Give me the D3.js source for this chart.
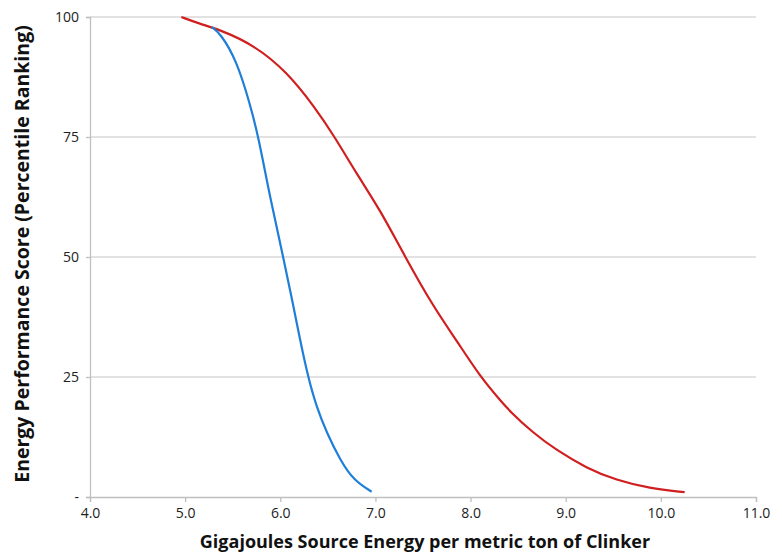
<!DOCTYPE html>
<meta charset="utf-8">
<script src="https://d3js.org/d3.v7.min.js"></script>
<style>
  body { margin: 0; background: #fff; }
  text { font-family: "Open Sans", "Noto Sans", sans-serif; }
</style>
<div id="chart"></div>
<script>

// values
var blueX = [5.28, 5.37, 5.54, 5.68, 5.77, 5.89, 6.03, 6.12, 6.20, 6.29, 6.38, 6.49, 6.63, 6.77, 6.96];
var blueY = [97.9, 96.6, 91.0, 82.0, 75.1, 62.6, 50.1, 41.5, 33.5, 25.1, 18.8, 13.3, 7.7, 3.5, 1.1];

var redX = [4.96, 5.15, 5.37, 5.72, 6.07, 6.37, 6.57, 6.80, 7.05, 7.31, 7.61, 7.85, 8.10, 8.31, 8.41, 8.66, 8.90, 9.22, 9.53, 9.88, 10.25];
var redY = [100, 98.6, 97.3, 94.2, 88.6, 81.0, 75.1, 67.4, 59.8, 50.1, 39.6, 32.7, 25.1, 20.2, 17.9, 13.3, 9.8, 6.0, 3.5, 1.8, 1.0];

var xTicks = [4, 5, 6, 7, 8, 9, 10, 11];
var yTicks = [0, 25, 50, 75, 100];

var width = 782, height = 556;
var margin = {left: 90, right: 26, top: 17, bottom: 59};

var svg = d3.select("#chart").append("svg").attr("width", width).attr("height", height);

var x = d3.scaleLinear().domain([4, 11]).range([margin.left, width - margin.right]);
var y = d3.scaleLinear().domain([0, 100]).range([height - margin.bottom, margin.top]);

// gridlines
svg.selectAll(".grid").data(yTicks.filter(function(d) { return d > 0; })).enter()
  .append("line")
  .attr("x1", x(4)).attr("x2", x(11))
  .attr("y1", function(d) { return y(d); }).attr("y2", function(d) { return y(d); })
  .style("stroke", "#d9d9d9").style("stroke-width", 1.3);

// x axis
var xAxis = svg.append("g")
  .attr("transform", "translate(0," + y(0) + ")")
  .call(d3.axisBottom(x).tickValues(xTicks).tickSize(5).tickPadding(6)
    .tickFormat(d3.format(".1f")));

// y axis
var yAxis = svg.append("g")
  .attr("transform", "translate(" + x(4) + ",0)")
  .call(d3.axisLeft(y).tickValues(yTicks).tickSize(4).tickPadding(7)
    .tickFormat(function(d) { return d === 0 ? "-" : d; }));

[xAxis, yAxis].forEach(function(g) {
  g.select(".domain").style("stroke", "#bfbfbf").style("stroke-width", 1.3);
  g.selectAll(".tick line").style("stroke", "#bfbfbf").style("stroke-width", 1.3);
  g.selectAll("text").style("font-size", "14px").style("fill", "#222")
    .style("font-family", "'Open Sans', sans-serif");
});

var line = d3.line()
  .x(function(d) { return x(d[0]); })
  .y(function(d) { return y(d[1]); })
  .curve(d3.curveBasis);

svg.append("path")
  .datum(d3.zip(redX, redY))
  .attr("d", line)
  .style("fill", "none").style("stroke", "#d01f1f").style("stroke-width", 2.2);

svg.append("path")
  .datum(d3.zip(blueX, blueY))
  .attr("d", line)
  .style("fill", "none").style("stroke", "#1f7fd8").style("stroke-width", 2.2);

// axis titles
svg.append("text")
  .attr("x", 425)
  .attr("y", 548)
  .style("text-anchor", "middle")
  .style("font-size", "18px").style("font-weight", "bold").style("fill", "#111")
  .text("Gigajoules Source Energy per metric ton of Clinker");

svg.append("text")
  .attr("transform", "translate(29,254) rotate(-90)")
  .style("text-anchor", "middle")
  .style("font-size", "19.5px").style("font-weight", "bold").style("fill", "#111")
  .text("Energy Performance Score (Percentile Ranking)");

</script>
